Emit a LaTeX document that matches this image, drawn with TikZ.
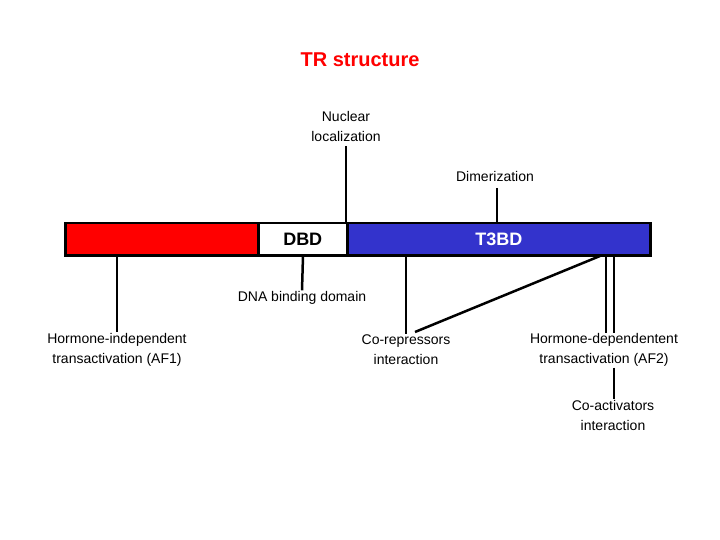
\documentclass[tikz,border=0pt]{standalone}
\usepackage{fontspec}
\setmainfont{Liberation Sans}
\begin{document}
\begin{tikzpicture}[x=1pt,y=-1pt,
  lbl/.style={font=\fontsize{14}{20}\selectfont,align=center,inner sep=1pt},
  ln/.style={line width=2.5pt},
  seg/.style={draw=black,line width=2.5pt,minimum height=32pt,inner sep=0pt,anchor=north west}]
\useasboundingbox (0,0) rectangle (720,540);
\node[font=\bfseries\fontsize{20}{24}\selectfont,text={rgb,255:red,255;green,0;blue,0}] (title) at (360,60) {TR structure};
\node[seg,fill={rgb,255:red,255;green,0;blue,0},minimum width=193pt] (red) at (64,222) {};
\node[seg,fill=white,minimum width=89pt,font=\bfseries\fontsize{18}{20}\selectfont] (dbd) at (257,222) {DBD};
\node[seg,fill={rgb,255:red,51;green,51;blue,204},minimum width=303pt,text=white,font=\bfseries\fontsize{18}{20}\selectfont] (t3) at (346,222) {T3BD};
\node[lbl] (nuc) at (346,126) {Nuclear\\localization};
\node[lbl] (dim) at (495,176) {Dimerization};
\node[lbl] (dna) at (302,298) {DNA binding domain};
\node[lbl] (af1) at (117,350) {Hormone-independent\\transactivation (AF1)};
\node[lbl] (corep) at (406,350) {Co-repressors\\interaction};
\node[lbl] (af2) at (604,350) {Hormone-dependentent\\transactivation (AF2)};
\node[lbl] (coact) at (613,415) {Co-activators\\interaction};
\coordinate (c1) at (346,146); \coordinate (c1b) at (346,222);
\coordinate (c2) at (497,188); \coordinate (c2b) at (497,222);
\draw[ln] (c1) -- (c1b);
\draw[ln] (c2) -- (c2b);
\draw[ln] (117,256) -- (af1.north -| 117,0);
\draw[ln] (303,256) -- (dna.north);
\draw[ln] (406,256) -- (corep.north);
\draw[ln] (600,256) -- (415,332);
\draw[ln] (606,256) -- (606,333);
\draw[ln] (614,256) -- (614,333);
\draw[ln] (af2.south -| 614,0) -- (coact.north -| 614,0);
\end{tikzpicture}
\end{document}
